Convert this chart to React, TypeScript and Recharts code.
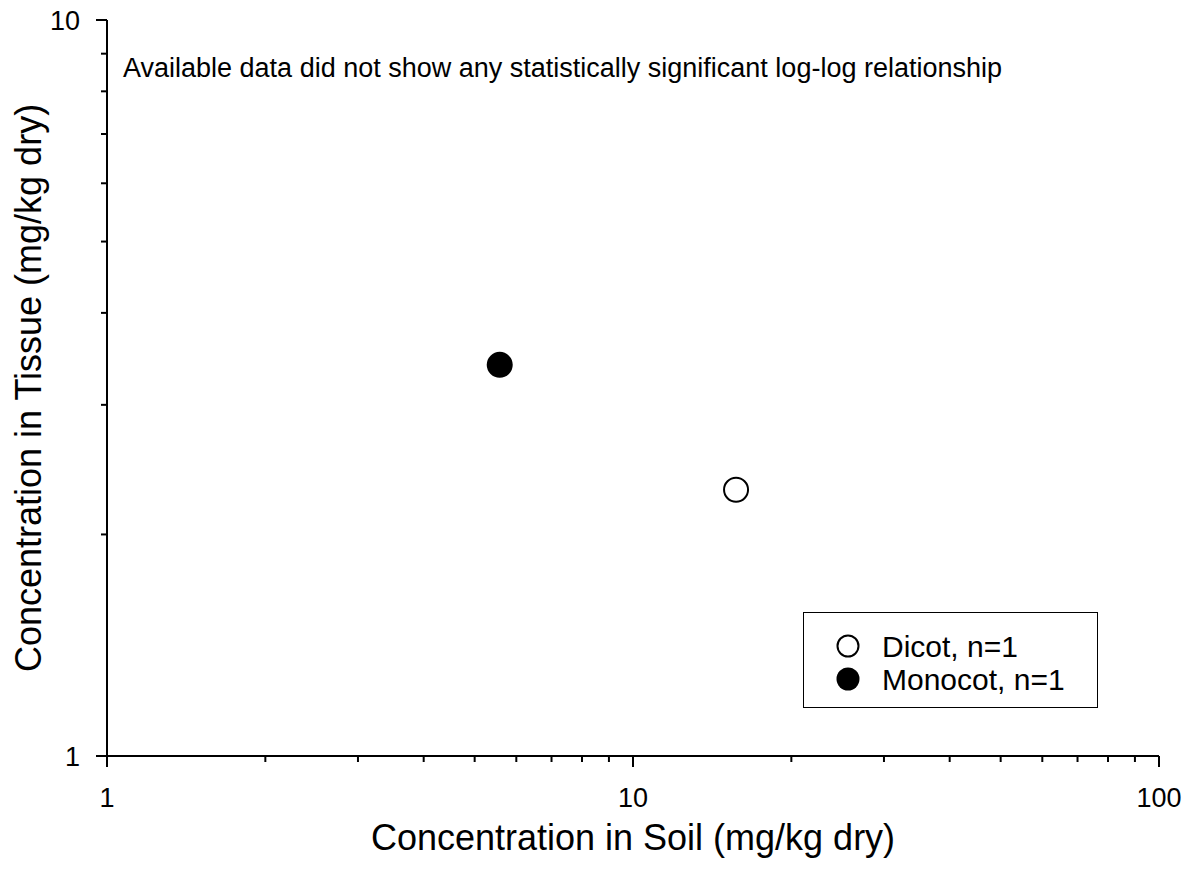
import React from 'react';
import { ScatterChart, Scatter, XAxis, YAxis } from 'recharts';

// tick positions (log axes) and which of them carry a label
const soilTicks = [1, 2, 3, 4, 5, 6, 7, 8, 9, 10, 20, 30, 40, 50, 60, 70, 80, 90, 100];
const soilLabels = [1, 10, 100];
const tissueTicks = [1, 2, 3, 4, 5, 6, 7, 8, 9, 10];
const tissueLabels = [1, 10];

// measured points
const dicotSoil = [15.7];
const dicotTissue = [2.3];
const monocotSoil = [5.58];
const monocotTissue = [3.4];

const dicotData = dicotSoil.map((s, i) => ({ soil: s, tissue: dicotTissue[i] }));
const monocotData = monocotSoil.map((s, i) => ({ soil: s, tissue: monocotTissue[i] }));

const FONT = '"Liberation Sans", Arial, Helvetica, sans-serif';

const SoilTick = (props: any) => {
    const { x, y, payload } = props;
    const major = soilLabels.includes(payload.value);
    return (
        <g>
            <line x1={x} y1={y} x2={x} y2={y + (major ? 11 : 6)} stroke="#000" strokeWidth={2} />
            {major && (
                <text x={x} y={y + 51} textAnchor="middle" fontSize={27} fontFamily={FONT} fill="#000">
                    {payload.value}
                </text>
            )}
        </g>
    );
};

const TissueTick = (props: any) => {
    const { x, y, payload } = props;
    const major = tissueLabels.includes(payload.value);
    return (
        <g>
            <line x1={x} y1={y} x2={x - (major ? 11 : 6)} y2={y} stroke="#000" strokeWidth={2} />
            {major && (
                <text x={x - 27} y={y} dy="0.36em" textAnchor="end" fontSize={27} fontFamily={FONT} fill="#000">
                    {payload.value}
                </text>
            )}
        </g>
    );
};

const OpenDot = (props: any) => (
    <circle cx={props.cx} cy={props.cy} r={12} fill="#fff" stroke="#000" strokeWidth={2} />
);

const FilledDot = (props: any) => (
    <circle cx={props.cx} cy={props.cy} r={13} fill="#000" />
);

export default function App() {
    return (
        <div style={{ position: 'absolute', left: 0, top: 0, width: 1194, height: 875, background: '#fff', fontFamily: FONT }}>
            <ScatterChart width={1194} height={875} margin={{ top: 20, right: 35, left: 7, bottom: 19 }}>
                <XAxis
                    type="number"
                    dataKey="soil"
                    scale="log"
                    domain={[1, 100]}
                    ticks={soilTicks}
                    interval={0}
                    allowDataOverflow
                    height={100}
                    tickSize={0}
                    tickMargin={0}
                    tickLine={false}
                    axisLine={{ stroke: '#000', strokeWidth: 2 }}
                    tick={<SoilTick />}
                    label={{
                        content: ({ viewBox }: any) => (
                            <text
                                x={viewBox.x + viewBox.width / 2}
                                y={viewBox.y + 94}
                                textAnchor="middle"
                                fontSize={36}
                                fontFamily={FONT}
                                fill="#000"
                            >
                                Concentration in Soil (mg/kg dry)
                            </text>
                        ),
                    }}
                />
                <YAxis
                    type="number"
                    dataKey="tissue"
                    scale="log"
                    domain={[1, 10]}
                    ticks={tissueTicks}
                    interval={0}
                    allowDataOverflow
                    width={100}
                    tickSize={0}
                    tickMargin={0}
                    tickLine={false}
                    axisLine={{ stroke: '#000', strokeWidth: 2 }}
                    tick={<TissueTick />}
                    label={{
                        content: ({ viewBox }: any) => {
                            const cx = viewBox.x + 21;
                            const cy = viewBox.y + viewBox.height / 2;
                            return (
                                <text
                                    x={cx}
                                    y={cy}
                                    dy="0.36em"
                                    transform={`rotate(-90, ${cx}, ${cy})`}
                                    textAnchor="middle"
                                    fontSize={36}
                                    fontFamily={FONT}
                                    fill="#000"
                                >
                                    Concentration in Tissue (mg/kg dry)
                                </text>
                            );
                        },
                    }}
                />
                <Scatter name="Dicot, n=1" data={dicotData} shape={<OpenDot />} isAnimationActive={false} />
                <Scatter name="Monocot, n=1" data={monocotData} shape={<FilledDot />} isAnimationActive={false} />
            </ScatterChart>

            {/* note in the upper left of the plot */}
            <div style={{ position: 'absolute', left: 123, top: 52, fontSize: 27, lineHeight: '32px', color: '#000', whiteSpace: 'nowrap' }}>
                Available data did not show any statistically significant log-log relationship
            </div>

            {/* legend box */}
            <div
                style={{
                    position: 'absolute',
                    left: 803,
                    top: 612,
                    width: 295,
                    height: 96,
                    border: '1px solid #000',
                    boxSizing: 'border-box',
                    background: '#fff',
                }}
            >
                <svg width={295} height={96} style={{ position: 'absolute', left: -1, top: -1 }}>
                    <circle cx={45} cy={34} r={10.5} fill="#fff" stroke="#000" strokeWidth={2} />
                    <text x={79} y={34} dy="0.36em" fontSize={30} fontFamily={FONT} fill="#000">Dicot, n=1</text>
                    <circle cx={45} cy={67} r={11.5} fill="#000" />
                    <text x={79} y={67} dy="0.36em" fontSize={30} fontFamily={FONT} fill="#000">Monocot, n=1</text>
                </svg>
            </div>
        </div>
    );
}
